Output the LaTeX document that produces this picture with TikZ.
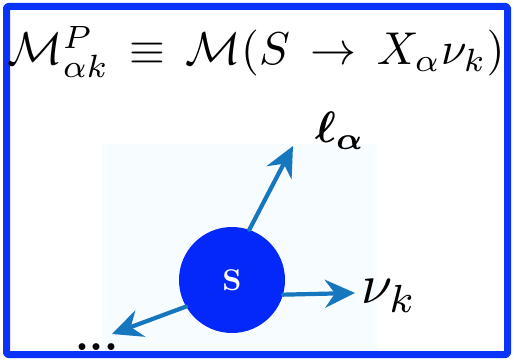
\documentclass[tikz,border=0pt]{standalone}
\usepackage{amsmath,bm}
\usetikzlibrary{arrows.meta}

\definecolor{frameblue}{RGB}{10,52,250}
\definecolor{ballblue}{RGB}{5,40,250}
\definecolor{arrowblue}{RGB}{22,118,190}
\definecolor{paleblue}{RGB}{246,252,255}

\begin{document}
\begin{tikzpicture}[x=1pt, y=-1pt, line cap=round, line join=round]

% ---------------- styles ----------------
\tikzset{
  frame/.style ={draw=frameblue, line width=7pt, rounded corners=2pt},
  ball/.style  ={circle, fill=ballblue, minimum size=106pt, inner sep=0pt,
                 text=white, font=\bfseries},
  decay/.style ={draw=arrowblue, line width=4.2pt,
                 -{Stealth[length=30pt, width=28pt, inset=10pt]}},
  lbl/.style   ={inner sep=0pt}
}

% ---------------- canvas ----------------
\useasboundingbox (0,0) rectangle (514,361);
\fill[paleblue] (102,144) rectangle (377,352);
\draw[frame] (6.5,6.5) rectangle (507.5,354.5);

% ---------------- amplitude ----------------
\node[lbl, scale=4.6] (amp) at (256,52)
  {$\mathcal{M}^{P}_{\alpha k}\,\equiv\,\mathcal{M}(S\,\to\,X_{\alpha}\nu_{k})$};

% ---------------- decaying particle ----------------
\node[ball] (S) at (232,280) {\scalebox{3}{S}};

% ---------------- end points ----------------
\coordinate (lTip)   at (293,146);
\coordinate (nuTip)  at (355,293);
\coordinate (dotTip) at (112,334);

\draw[decay] (S.71)  -- (lTip);
\draw[decay] (S.-16) -- (nuTip);
\draw[decay] (S.210) -- (dotTip);

% ---------------- labels ----------------
\node[lbl, scale=4.4] (lab) at (340,131) {$\bm{\ell_{\alpha}}$};
\node[lbl, scale=5.6] (nu)  at (389,296) {$\nu_{k}$};
\node[lbl, scale=4.4] (dots) at (97,347) {\textbf{...}};

\end{tikzpicture}
\end{document}
